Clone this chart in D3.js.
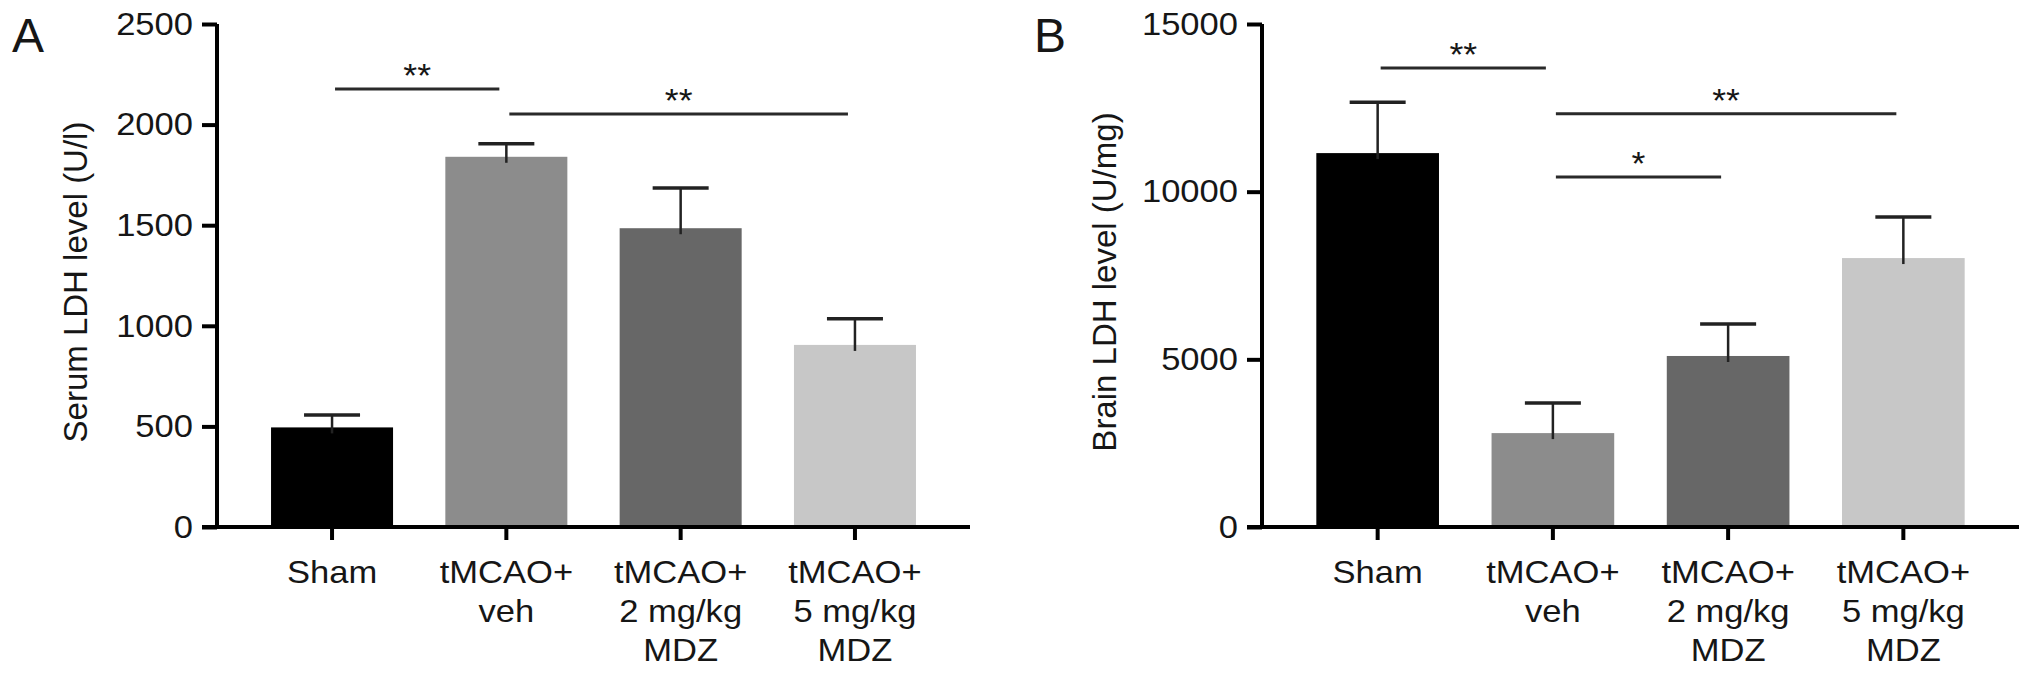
<!DOCTYPE html>
<html lang="en">
<head>
    <meta charset="UTF-8">
    <title>LDH levels</title>
    <script src="https://d3js.org/d3.v7.min.js"></script>
    <style>
body {
    margin: 0;
    background: #fff;
}
text {
    font-family: "Liberation Sans", Arial, Helvetica, sans-serif;
    fill: #161616;
}
    </style>
</head>
<body>
    <svg width="2032" height="678"></svg>
    <script>
        // group names, one entry per label line
        const groups = ["Sham", "veh", "2mg", "5mg"];
        const groupLabels = [
            ["Sham"],
            ["tMCAO+", "veh"],
            ["tMCAO+", "2 mg/kg", "MDZ"],
            ["tMCAO+", "5 mg/kg", "MDZ"]
        ];
        const barColors = ["#000000", "#8c8c8c", "#676767", "#c7c7c7"];

        // panel A - serum
        const serumMean = [495, 1840, 1485, 905];
        const serumErr = [62, 65, 200, 130];
        const serumTicks = [0, 500, 1000, 1500, 2000, 2500];
        // [from, to, height, label]
        const serumSig = [[0, 1, 2177, "**"], [1, 3, 2053, "**"]];

        // panel B - brain
        const brainMean = [11150, 2800, 5100, 8020];
        const brainErr = [1520, 900, 950, 1225];
        const brainTicks = [0, 5000, 10000, 15000];
        const brainSig = [[0, 1, 13690, "**"], [1, 3, 12320, "**"], [1, 2, 10440, "*"]];

        const svg = d3.select("svg");
        const yTop = 24, yBottom = 527;
        const stretch = 1.08;   // the source figure is a little wider than tall

        function drawPanel(opt) {
            const g = svg.append("g");

            const xScale = d3.scaleBand()
                .domain(groups)
                .range([opt.x0, opt.x1])
                .paddingInner(0.3)
                .paddingOuter(0.31);
            const yScale = d3.scaleLinear()
                .domain([0, d3.max(opt.ticks)])
                .range([yBottom, yTop]);
            const cx = i => xScale(groups[i]) + xScale.bandwidth() / 2;

            //Bars
            g.selectAll(".bar")
                .data(opt.mean)
                .enter()
                .append("rect")
                .attr("class", "bar")
                .attr("x", (d, i) => xScale(groups[i]))
                .attr("y", d => yScale(d))
                .attr("width", xScale.bandwidth())
                .attr("height", d => yBottom - yScale(d))
                .attr("fill", (d, i) => barColors[i]);

            //Error bars (upper only)
            const err = g.selectAll(".err")
                .data(opt.mean)
                .enter()
                .append("g")
                .attr("class", "err");
            err.append("line")
                .attr("x1", (d, i) => cx(i))
                .attr("x2", (d, i) => cx(i))
                .attr("y1", (d, i) => yScale(d) + 6)
                .attr("y2", (d, i) => yScale(d + opt.err[i]))
                .attr("stroke", "#222")
                .attr("stroke-width", 2.5);
            err.append("line")
                .attr("x1", (d, i) => cx(i) - 28)
                .attr("x2", (d, i) => cx(i) + 28)
                .attr("y1", (d, i) => yScale(d + opt.err[i]))
                .attr("y2", (d, i) => yScale(d + opt.err[i]))
                .attr("stroke", "#222")
                .attr("stroke-width", 3.5);

            //Axes
            const yAxis = g.append("g")
                .attr("transform", `translate(${opt.x0},0)`)
                .call(d3.axisLeft(yScale)
                    .tickValues(opt.ticks)
                    .tickSize(15)
                    .tickSizeOuter(0)
                    .tickPadding(9)
                    .tickFormat(d3.format("d")));
            yAxis.selectAll("text")
                .attr("font-size", 32)
                .attr("fill", "#161616")
                .attr("font-family", "Liberation Sans, Arial, sans-serif")
                .attr("x", -24 / stretch)
                .attr("transform", `scale(${stretch},1)`);

            const xAxis = g.append("g")
                .attr("transform", `translate(0,${yBottom})`)
                .call(d3.axisBottom(xScale)
                    .tickSize(13)
                    .tickSizeOuter(0)
                    .tickFormat(""));

            [yAxis, xAxis].forEach(a => {
                a.select(".domain").attr("stroke", "#000").attr("stroke-width", 4);
                a.selectAll(".tick line").attr("stroke", "#000").attr("stroke-width", 4);
            });
            // y axis line reaches the x axis corner
            yAxis.select(".domain").attr("d", `M0,${yBottom + 2}V${yTop}`);
            xAxis.select(".domain").attr("d", `M${opt.x0 - 15},0H${opt.x1}`);

            //Category labels
            const lab = g.selectAll(".cat")
                .data(groupLabels)
                .enter()
                .append("text")
                .attr("class", "cat")
                .attr("text-anchor", "middle")
                .attr("font-size", 32)
                .attr("transform", (d, i) => `translate(${cx(i)},583) scale(${stretch},1)`);
            lab.selectAll("tspan")
                .data(d => d)
                .enter()
                .append("tspan")
                .attr("x", 0)
                .attr("y", (d, j) => j * 39)
                .text(d => d);

            //Significance lines
            opt.sig.forEach(s => {
                const y = yScale(s[2]);
                const xa = cx(s[0]) + 3, xb = cx(s[1]) - 7;
                g.append("line")
                    .attr("x1", xa)
                    .attr("x2", xb)
                    .attr("y1", y)
                    .attr("y2", y)
                    .attr("stroke", "#2a2a2a")
                    .attr("stroke-width", 3);
                g.append("text")
                    .attr("transform", `translate(${(xa + xb) / 2},${y - 2}) scale(${stretch},1)`)
                    .attr("text-anchor", "middle")
                    .attr("font-size", 33)
                    .text(s[3]);
            });

            //Y label
            g.append("text")
                .attr("transform", `translate(${opt.labelX},282) rotate(-90)`)
                .attr("text-anchor", "middle")
                .attr("font-size", 33)
                .text(opt.yLabel);

            //Panel letter
            g.append("text")
                .attr("x", opt.letterX)
                .attr("y", 52)
                .attr("font-size", 48)
                .text(opt.letter);
        }

        drawPanel({
            x0: 217, x1: 970,
            mean: serumMean, err: serumErr, ticks: serumTicks, sig: serumSig,
            yLabel: "Serum LDH level (U/l)", labelX: 87,
            letter: "A", letterX: 12
        });
        drawPanel({
            x0: 1262, x1: 2019,
            mean: brainMean, err: brainErr, ticks: brainTicks, sig: brainSig,
            yLabel: "Brain LDH level (U/mg)", labelX: 1116,
            letter: "B", letterX: 1034
        });
    </script>
</body>
</html>
